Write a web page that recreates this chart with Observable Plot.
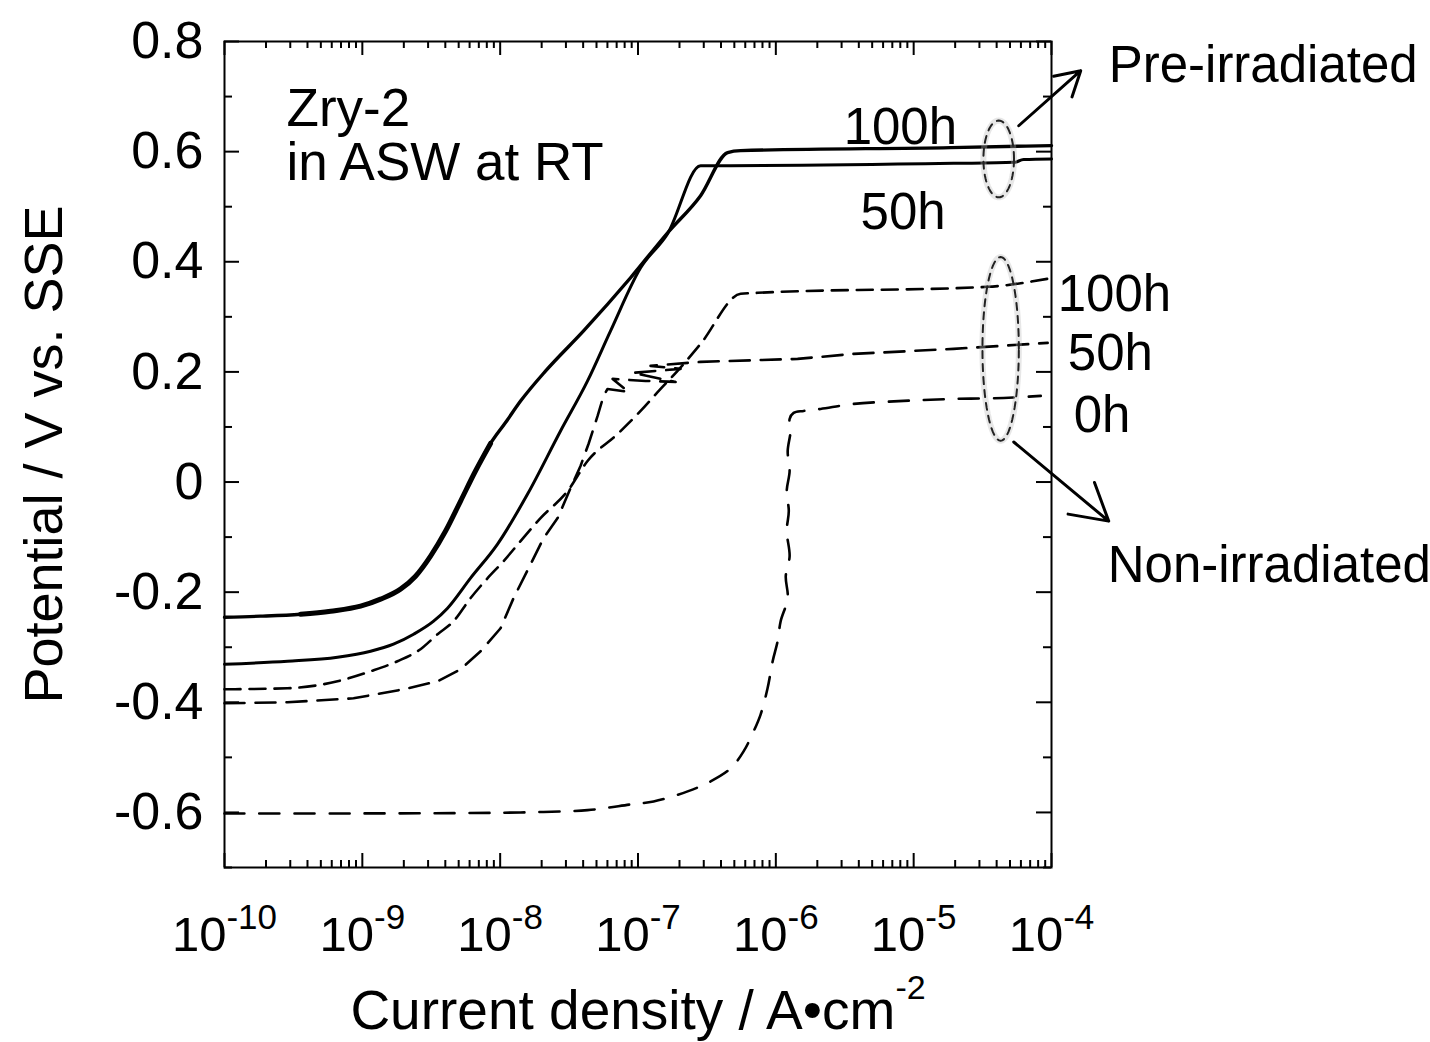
<!DOCTYPE html>
<html><head><meta charset="utf-8">
<script src="https://cdn.jsdelivr.net/npm/d3@7"></script>
<script src="https://cdn.jsdelivr.net/npm/@observablehq/plot@0.6"></script>
<style>
html,body{margin:0;padding:0;background:#fff;}
#chart{width:1430px;height:1042px;}
</style></head><body><div id="chart"></div>
<script>
// ---- Data: [log10(current density / A cm^-2), potential / V vs. SSE] ----
const pre100h = [[-10,-0.2455],[-9.739,-0.2436],[-9.448,-0.24],[-9.23,-0.2345],[-9.013,-0.2255],[-8.868,-0.2127],[-8.723,-0.1945],[-8.614,-0.171],[-8.505,-0.1345],[-8.396,-0.089],[-8.287,-0.0345],[-8.179,0.02],[-8.07,0.0700],[-7.961,0.108],[-7.852,0.147],[-7.67,0.2018],[-7.395,0.2745],[-7.054,0.371],[-6.785,0.4527],[-6.546,0.52],[-6.35,0.5982],[-6.256,0.6018],[-4.732,0.6073],[-4.0,0.611]];
const pre50h = [[-10,-0.3309],[-9.543,-0.3255],[-9.18,-0.3182],[-8.94,-0.3073],[-8.774,-0.2945],[-8.628,-0.2764],[-8.483,-0.2527],[-8.382,-0.2291],[-8.215,-0.1745],[-8.019,-0.1127],[-7.801,-0.0218],[-7.562,0.0927],[-7.366,0.1836],[-7.199,0.2745],[-6.981,0.389],[-6.785,0.4509],[-6.546,0.5745],[-6.401,0.5745],[-4.71,0.5787],[-4.274,0.5805],[-4.202,0.5855],[-4.0,0.5867]];
const non100h = [[-10,-0.3764],[-9.543,-0.3745],[-9.18,-0.3618],[-8.94,-0.3436],[-8.745,-0.3255],[-8.578,-0.3036],[-8.454,-0.2764],[-8.338,-0.2527],[-8.215,-0.2109],[-8.091,-0.1745],[-7.975,-0.1436],[-7.852,-0.1073],[-7.707,-0.0655],[-7.511,-0.0164],[-7.366,0.0382],[-7.148,0.0873],[-6.981,0.1291],[-6.836,0.1691],[-6.713,0.2018],[-6.546,0.2509],[-6.255,0.3418],[-6.132,0.3436],[-4.463,0.3545],[-4.028,0.3691]];
const non50h = [[-10,-0.4018],[-9.543,-0.4],[-9.064,-0.3927],[-8.701,-0.3764],[-8.454,-0.3618],[-8.287,-0.34],[-8.142,-0.3073],[-7.997,-0.2655],[-7.903,-0.2109],[-7.779,-0.1491],[-7.685,-0.1018],[-7.583,-0.0655],[-7.489,-0.0109],[-7.417,0.0291],[-7.359,0.0691],[-7.293,0.12],[-7.25,0.1564],[-7.221,0.169],[-7.068,0.1636],[-7.184,0.1873],[-6.945,0.1836],[-6.727,0.1818],[-7.039,0.1982],[-6.691,0.2055],[-6.909,0.2109],[-6.546,0.2182],[-5.842,0.2236],[-5.435,0.2327],[-4.71,0.2418],[-4.028,0.2527]];
const non0h = [[-10,-0.6018],[-9.064,-0.6018],[-8.338,-0.6013],[-7.852,-0.6],[-7.366,-0.5958],[-7.054,-0.5855],[-6.887,-0.58],[-6.64,-0.5618],[-6.473,-0.5436],[-6.328,-0.52],[-6.234,-0.4891],[-6.161,-0.4527],[-6.11,-0.4218],[-6.06,-0.3745],[-6.023,-0.3255],[-5.987,-0.2891],[-5.965,-0.2527],[-5.914,-0.2109],[-5.928,-0.1709],[-5.9,-0.1345],[-5.921,-0.0891],[-5.906,-0.0527],[-5.921,-0.0164],[-5.9,0.02],[-5.914,0.0564],[-5.893,0.0927],[-5.9,0.1145],[-5.871,0.1255],[-5.798,0.1291],[-5.675,0.1327],[-5.436,0.1418],[-5.073,0.1473],[-4.71,0.1509],[-4.347,0.1527],[-4.078,0.1564]];

// ---- Axes ----
const xTickExponents = [-10,-9,-8,-7,-6,-5,-4];
const yMajorTicks = [-0.6,-0.4,-0.2,0,0.2,0.4,0.6,0.8];
const yMinorTicks = [-0.7,-0.5,-0.3,-0.1,0.1,0.3,0.5,0.7];
const xTitle = "Current density / A•cm^-2";
const yTitle = "Potential / V vs. SSE";

// ---- Annotations ----
const labels = [
  {lx: -9.55, y: 0.716, text: "Zry-2\nin ASW at RT", anchor: "top"},
  {lx: -5.508, y: 0.6427, text: "100h", anchor: "middle"},
  {lx: -5.385, y: 0.49, text: "50h", anchor: "middle"},
  {lx: -3.955, y: 0.34, text: "100h", anchor: "middle"},
  {lx: -3.882, y: 0.2327, text: "50h", anchor: "middle"},
  {lx: -3.839, y: 0.12, text: "0h", anchor: "middle"},
  {lx: -3.585, y: 0.7564, text: "Pre-irradiated", anchor: "middle"},
  {lx: -3.592, y: -0.1527, text: "Non-irradiated", anchor: "middle"}
];
const arrows = [
  {lx1: -4.238, y1: 0.647, lx2: -3.788, y2: 0.747},
  {lx1: -4.274, y1: 0.0727, lx2: -3.585, y2: -0.071}
];
const ellipses = [
  {cx: -4.383, cy: 0.5867, rx: 0.111, ry: 0.0697},
  {cx: -4.369, cy: 0.2418, rx: 0.132, ry: 0.1668}
];

// ---- Layout ----
const W = 1430, H = 1042;
const M = {top: 41, right: 379, bottom: 175, left: 224};
const PW = W - M.left - M.right, PH = H - M.top - M.bottom;
const FONT = '"Liberation Sans", Arial, Helvetica, sans-serif';

const xMinor = [];
for (const d of xTickExponents.slice(0, -1)) for (let k = 2; k <= 9; k++) xMinor.push(k * 10 ** d);
const ellipsePts = ellipses.flatMap((e, i) => d3.range(0, 73).map(j => {
  const t = j / 72 * 2 * Math.PI;
  return {id: i, lx: e.cx + e.rx * Math.cos(t), y: e.cy + e.ry * Math.sin(t)};
}));

const series = [
  {data: pre100h, w: 3.4, dash: null, curve: "monotone-x"},
  {data: pre50h, w: 3, dash: null, curve: "monotone-x"},
  {data: non100h, w: 2.6, dash: "16,9", curve: "monotone-x"},
  {data: non50h, w: 2.6, dash: "20,11", curve: "linear"},
  {data: non0h, w: 2.6, dash: "20,15", curve: "catmull-rom"}
];

const chart = Plot.plot({
  width: W, height: H,
  marginTop: M.top, marginRight: M.right, marginBottom: M.bottom, marginLeft: M.left,
  style: {fontFamily: FONT, background: "white", color: "black"},
  x: {type: "log", domain: [1e-10, 1e-4], axis: null},
  y: {domain: [-0.7, 0.8], axis: null},
  marks: [
    // ticks (inward, mirrored)
    Plot.ruleX(xTickExponents, {x: d => 10 ** d, insetTop: PH - 14, strokeWidth: 2}),
    Plot.ruleX(xTickExponents, {x: d => 10 ** d, insetBottom: PH - 14, strokeWidth: 2}),
    Plot.ruleX(xMinor, {insetTop: PH - 7, strokeWidth: 2}),
    Plot.ruleX(xMinor, {insetBottom: PH - 7, strokeWidth: 2}),
    Plot.ruleY(yMajorTicks, {insetRight: PW - 15, strokeWidth: 2}),
    Plot.ruleY(yMajorTicks, {insetLeft: PW - 15, strokeWidth: 2}),
    Plot.ruleY(yMinorTicks, {insetRight: PW - 8, strokeWidth: 2}),
    Plot.ruleY(yMinorTicks, {insetLeft: PW - 8, strokeWidth: 2}),
    Plot.frame({stroke: "black", strokeWidth: 2}),
    // tick labels
    Plot.text(yMajorTicks, {frameAnchor: "left", y: d => d, text: d => String(d), textAnchor: "end", dx: -21, fontSize: 52}),
    Plot.text(xTickExponents, {x: d => 10 ** d, frameAnchor: "bottom", text: d => "10^" + d, textAnchor: "middle", lineAnchor: "bottom", dy: 83, fontSize: 49}),
    // axis titles
    Plot.text([xTitle], {frameAnchor: "bottom", text: d => d, textAnchor: "middle", lineAnchor: "bottom", dy: 161, fontSize: 55}),
    Plot.text([yTitle], {frameAnchor: "left", text: d => d, textAnchor: "middle", rotate: -90, dx: -180, fontSize: 54}),
    // curves
    ...series.map(s => Plot.line(s.data, {x: d => 10 ** d[0], y: d => d[1], stroke: "black", strokeWidth: s.w, strokeDasharray: s.dash, strokeLinejoin: "round", curve: s.curve})),
    // noisy thick start of the pre-irradiated 100h curve
    Plot.line(pre100h.slice(2, 13), {x: d => 10 ** d[0], y: d => d[1], stroke: "black", strokeWidth: 5, strokeLinecap: "round", curve: "monotone-x"}),
    // ellipses
    Plot.line(ellipsePts, {x: d => 10 ** d.lx, y: "y", z: "id", stroke: "#bbb", strokeWidth: 6, strokeOpacity: 0.35}),
    Plot.line(ellipsePts, {x: d => 10 ** d.lx, y: "y", z: "id", stroke: "#222", strokeWidth: 2, strokeDasharray: "7,6"}),
    // arrows
    Plot.arrow(arrows, {x1: d => 10 ** d.lx1, y1: "y1", x2: d => 10 ** d.lx2, y2: "y2", stroke: "black", strokeWidth: 3, headLength: 22}),
    // annotation text
    Plot.text(labels.filter(d => d.anchor === "top"), {x: d => 10 ** d.lx, y: "y", text: "text", textAnchor: "start", lineAnchor: "top", lineHeight: 1.02, fontSize: 53}),
    Plot.text(labels.filter(d => d.anchor === "middle"), {x: d => 10 ** d.lx, y: "y", text: "text", textAnchor: "start", lineAnchor: "middle", fontSize: 51})
  ]
});

// superscripts for exponent labels (text written as "base^exp")
const NS = "http://www.w3.org/2000/svg";
chart.querySelectorAll("text").forEach(t => {
  if (t.children.length || !t.textContent.includes("^")) return;
  const [b, e] = t.textContent.split("^");
  const isTick = b === "10";
  t.textContent = "";
  const t1 = document.createElementNS(NS, "tspan"); t1.textContent = b;
  const t2 = document.createElementNS(NS, "tspan");
  t2.setAttribute("font-size", isTick ? 35 : 34);
  t2.setAttribute("dy", isTick ? -22 : -30);
  t2.textContent = e;
  t.append(t1, t2);
});

document.getElementById("chart").append(chart);
</script></body></html>
